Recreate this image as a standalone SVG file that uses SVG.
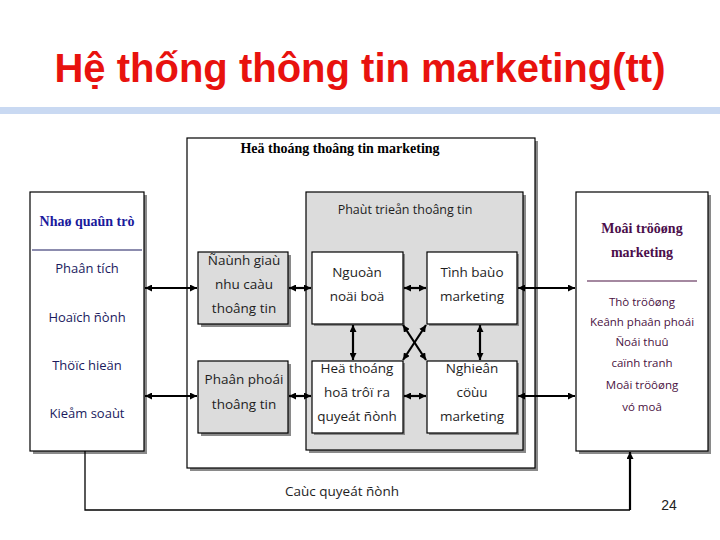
<svg xmlns="http://www.w3.org/2000/svg" width="720" height="540" viewBox="0 0 720 540">
<defs>
<marker id="ah" viewBox="0 0 10 10" refX="10" refY="5" markerUnits="userSpaceOnUse" markerWidth="7" markerHeight="7" orient="auto-start-reverse">
<path d="M0,0 L10,5 L0,10 z" fill="#000"/>
</marker>
<style>
.shadow{fill:#8a8a8a;stroke:none}
.box{stroke:#000;stroke-width:1.2}
.white{fill:#fff}
.gray{fill:#dcdcdc}
.t{font-family:"Open Sans","DejaVu Sans",sans-serif;font-size:13.5px;fill:#1e1e1e;text-anchor:middle}
.hd{font-family:"Liberation Serif","DejaVu Serif",serif;font-weight:bold;font-size:14px;text-anchor:middle}
.lt{font-family:"Open Sans","DejaVu Sans",sans-serif;font-size:13px;fill:#1a1a5e;text-anchor:middle}
.rt{font-family:"Open Sans","DejaVu Sans",sans-serif;font-size:11.5px;fill:#4a1242;text-anchor:middle}
.arr{stroke:#000;stroke-width:2.2;fill:none;marker-start:url(#ah);marker-end:url(#ah)}
</style>
</defs>
<rect width="720" height="540" fill="#fff"/>
<text x="360" y="82" font-family="'Liberation Sans',Arial,sans-serif" font-weight="bold" font-size="40" fill="#e8120e" text-anchor="middle">Hệ thống thông tin marketing(tt)</text>
<rect x="0" y="107" width="720" height="7" fill="#c9d9f2"/>

<g id="outer">
<rect class="shadow" x="190" y="141" width="348" height="330"/>
<rect class="box white" x="187" y="138" width="348" height="330"/>
<text class="hd" x="340" y="153" fill="#000">Heä thoáng thoâng tin marketing</text>
</g>

<g id="phattrien">
<rect class="shadow" x="309" y="195" width="217" height="258"/>
<rect class="box gray" x="306" y="192" width="217" height="258"/>
<text class="t" x="405" y="214" style="font-size:12.5px">Phaùt trieån thoâng tin</text>
</g>

<g id="nhaquantri">
<rect class="shadow" x="33" y="195" width="114" height="259"/>
<rect class="box white" x="30" y="192" width="114" height="259"/>
<text class="hd" x="87" y="226" fill="#1a1a9c">Nhaø quaûn trò</text>
<line x1="32" y1="250" x2="142" y2="250" stroke="#1a1a5e" stroke-width="1.2"/>
<text class="lt" x="87" y="273">Phaân tích</text>
<text class="lt" x="87" y="322">Hoaïch ñònh</text>
<text class="lt" x="87" y="370">Thöïc hieän</text>
<text class="lt" x="87" y="418">Kieåm soaùt</text>
</g>

<g id="moitruong">
<rect class="shadow" x="579" y="195" width="132" height="259"/>
<rect class="box white" x="576" y="192" width="132" height="259"/>
<text class="hd" x="642" y="233" fill="#4b0e4b">Moâi tröôøng</text>
<text class="hd" x="642" y="257" fill="#4b0e4b">marketing</text>
<line x1="587" y1="281" x2="697" y2="281" stroke="#4a1242" stroke-width="1.2"/>
<text class="rt" x="642" y="306">Thò tröôøng</text>
<text class="rt" x="642" y="326">Keânh phaân phoái</text>
<text class="rt" x="642" y="346">Ñoái thuû</text>
<text class="rt" x="642" y="367">caïnh tranh</text>
<text class="rt" x="642" y="389">Moâi tröôøng</text>
<text class="rt" x="642" y="411">vó moâ</text>
</g>

<g id="danhgia">
<rect class="shadow" x="201" y="255" width="90" height="72"/>
<rect class="box gray" x="198" y="252" width="90" height="72"/>
<text class="t" x="244" y="265">Ñaùnh giaù</text>
<text class="t" x="244" y="289">nhu caàu</text>
<text class="t" x="244" y="313">thoâng tin</text>
</g>

<g id="phanphoi">
<rect class="shadow" x="201" y="364" width="90" height="72"/>
<rect class="box gray" x="198" y="361" width="90" height="72"/>
<text class="t" x="244" y="384">Phaân phoái</text>
<text class="t" x="244" y="409">thoâng tin</text>
</g>

<g id="nguon">
<rect class="shadow" x="314" y="254" width="91" height="72"/>
<rect class="box white" x="312" y="252" width="91" height="72"/>
<text class="t" x="357" y="277">Nguoàn</text>
<text class="t" x="357" y="301">noäi boä</text>
</g>

<g id="tinhbao">
<rect class="shadow" x="429" y="254" width="90" height="72"/>
<rect class="box white" x="427" y="252" width="90" height="72"/>
<text class="t" x="472" y="277">Tình baùo</text>
<text class="t" x="472" y="301">marketing</text>
</g>

<g id="hethong">
<rect class="shadow" x="314" y="363" width="91" height="72"/>
<rect class="box white" x="312" y="361" width="91" height="72"/>
<text class="t" x="357" y="373">Heä thoáng</text>
<text class="t" x="357" y="397">hoã trôï ra</text>
<text class="t" x="357" y="421">quyeát ñònh</text>
</g>

<g id="nghiencuu">
<rect class="shadow" x="429" y="363" width="90" height="72"/>
<rect class="box white" x="427" y="361" width="90" height="72"/>
<text class="t" x="472" y="373">Nghieân</text>
<text class="t" x="472" y="397">cöùu</text>
<text class="t" x="472" y="421">marketing</text>
</g>

<g id="connectors">
<line class="arr" x1="145" y1="288" x2="197" y2="288"/>
<line class="arr" x1="145" y1="396" x2="197" y2="396"/>
<line class="arr" x1="289" y1="288" x2="311" y2="288"/>
<line class="arr" x1="289" y1="396" x2="311" y2="396"/>
<line class="arr" x1="404" y1="288" x2="426" y2="288"/>
<line class="arr" x1="404" y1="396" x2="426" y2="396"/>
<line class="arr" x1="518" y1="288" x2="575" y2="288"/>
<line class="arr" x1="518" y1="396" x2="575" y2="396"/>
<line class="arr" x1="353" y1="325" x2="353" y2="360"/>
<line class="arr" x1="480" y1="325" x2="480" y2="360"/>
<line class="arr" x1="403" y1="325" x2="426" y2="360"/>
<line class="arr" x1="426" y1="325" x2="403" y2="360"/>
<polyline points="85,451 85,510 630,510" fill="none" stroke="#000" stroke-width="1.3"/>
<line x1="630" y1="510" x2="630" y2="452" stroke="#000" stroke-width="2.2" marker-end="url(#ah)"/>
</g>
<text class="t" x="342" y="496">Caùc quyeát ñònh</text>
<text x="669" y="510" font-family="'Liberation Sans',Arial,sans-serif" font-size="14" fill="#222" text-anchor="middle">24</text>
</svg>
